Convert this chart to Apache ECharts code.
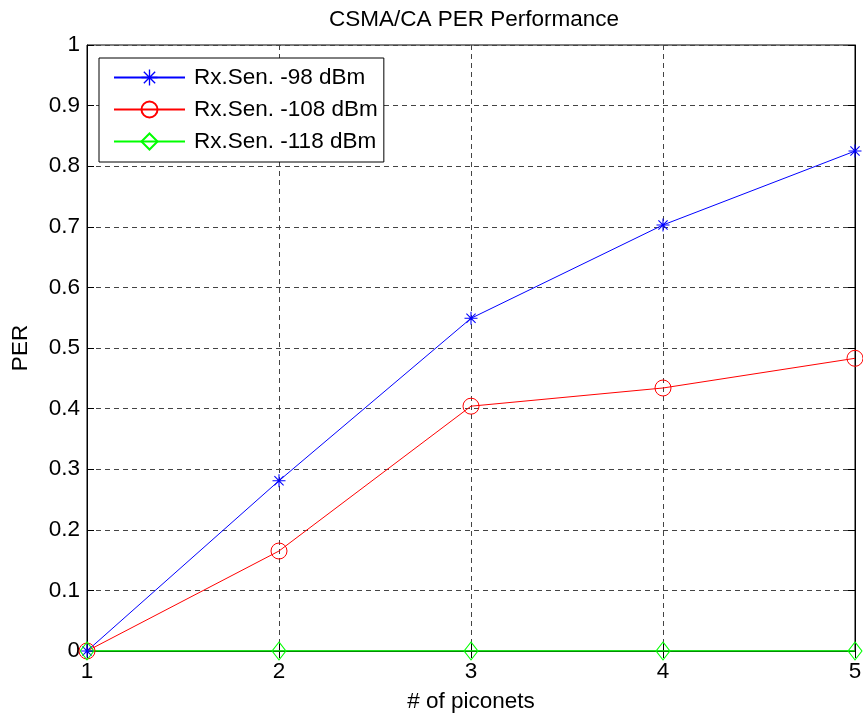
<!DOCTYPE html>
<html>
<head>
<meta charset="utf-8">
<script src="https://cdn.jsdelivr.net/npm/echarts@6/dist/echarts.min.js"></script>
<style>html,body{margin:0;padding:0;background:#fff}#c{width:863px;height:717px}</style>
</head>
<body>
<div id="c"></div>
<script>
var piconets = [1, 2, 3, 4, 5];
var per98 = [0, 0.281, 0.549, 0.703, 0.825];
var per108 = [0, 0.165, 0.404, 0.434, 0.483];
var per118 = [0, 0, 0, 0, 0];
var seriesNames = ['Rx.Sen. -98 dBm', 'Rx.Sen. -108 dBm', 'Rx.Sen. -118 dBm'];

function pairs(xs, ys) { return xs.map(function (x, i) { return [x, ys[i]]; }); }

var FONT = '"Liberation Sans", Arial, sans-serif';
var FS = 22.5;
var star = 'path://M5.5,0 L6.5,0 L6.5,12 L5.5,12 Z M0,5.5 L12,5.5 L12,6.5 L0,6.5 Z M1.4,2.1 L2.1,1.4 L10.6,9.9 L9.9,10.6 Z M9.9,1.4 L10.6,2.1 L2.1,10.6 L1.4,9.9 Z';

var gridLine = { show: true, lineStyle: { color: '#444', type: [5, 4], width: 1 } };
var chart = echarts.init(document.getElementById('c'), null, { renderer: 'canvas' });
chart.setOption({
  animation: false,
  backgroundColor: '#fff',
  title: {
    text: 'CSMA/CA PER Performance', left: 469, top: 3, textAlign: 'center',
    textStyle: { fontFamily: FONT, fontSize: FS, fontWeight: 'normal', color: '#000' }
  },
  grid: { left: 87, right: 8, top: 45, bottom: 66, outerBoundsMode: 'none', containLabel: false,
    show: true, borderColor: '#000', borderWidth: 1, backgroundColor: '#fff' },
  legend: {
    orient: 'vertical', left: 99, top: 58,
    backgroundColor: '#fff', borderColor: '#000', borderWidth: 1,
    padding: [8, 6, 9, 14], itemWidth: 71, itemHeight: 20, itemGap: 9,
    textStyle: { fontFamily: FONT, fontSize: FS, color: '#000', lineHeight: 23, padding: [0, 0, 0, 4] },
    data: seriesNames
  },
  xAxis: [{
    type: 'value', min: 1, max: 5, interval: 1, position: 'bottom',
    name: '# of piconets', nameLocation: 'middle', nameGap: 39,
    nameTextStyle: { fontFamily: FONT, fontSize: FS, color: '#000' },
    axisLine: { show: true, lineStyle: { color: '#000', width: 1 } },
    axisTick: { show: true, inside: true, length: 7, lineStyle: { color: '#000' } },
    axisLabel: { fontFamily: FONT, fontSize: FS, color: '#000', margin: 9 },
    splitLine: gridLine
  }, {
    type: 'value', min: 1, max: 5, interval: 1, position: 'top',
    axisLine: { show: true, lineStyle: { color: '#000' } },
    axisTick: { show: true, inside: true, length: 7, lineStyle: { color: '#000' } },
    axisLabel: { show: false }, splitLine: { show: false }
  }],
  yAxis: [{
    type: 'value', min: 0, max: 1, interval: 0.1, position: 'left',
    name: 'PER', nameLocation: 'middle', nameGap: 55, nameRotate: 90,
    nameTextStyle: { fontFamily: FONT, fontSize: FS, color: '#000' },
    axisLine: { show: true, lineStyle: { color: '#000', width: 1 } },
    axisTick: { show: true, inside: true, length: 7, lineStyle: { color: '#000' } },
    axisLabel: { fontFamily: FONT, fontSize: FS, color: '#000', margin: 7,
      formatter: function (v) { return String(Math.round(v * 10) / 10); } },
    splitLine: gridLine
  }, {
    type: 'value', min: 0, max: 1, interval: 0.1, position: 'right',
    axisLine: { show: true, lineStyle: { color: '#000' } },
    axisTick: { show: true, inside: true, length: 7, lineStyle: { color: '#000' } },
    axisLabel: { show: false }, splitLine: { show: false }
  }],
  series: [{
    name: seriesNames[0], type: 'line', data: pairs(piconets, per98),
    symbol: star, symbolSize: 13,
    itemStyle: { color: '#0000ff' }, lineStyle: { color: '#0000ff', width: 1 }
  }, {
    name: seriesNames[1], type: 'line', data: pairs(piconets, per108),
    symbol: 'circle', symbolSize: 16,
    itemStyle: { color: 'rgba(0,0,0,0)', borderColor: '#ff0000', borderWidth: 1 },
    lineStyle: { color: '#ff0000', width: 1 }
  }, {
    name: seriesNames[2], type: 'line', data: pairs(piconets, per118),
    symbol: 'diamond', symbolSize: [14, 18],
    itemStyle: { color: 'rgba(0,0,0,0)', borderColor: '#00ff00', borderWidth: 1 },
    lineStyle: { color: '#00ff00', width: 1.5 }
  }]
});
</script>
</body>
</html>
